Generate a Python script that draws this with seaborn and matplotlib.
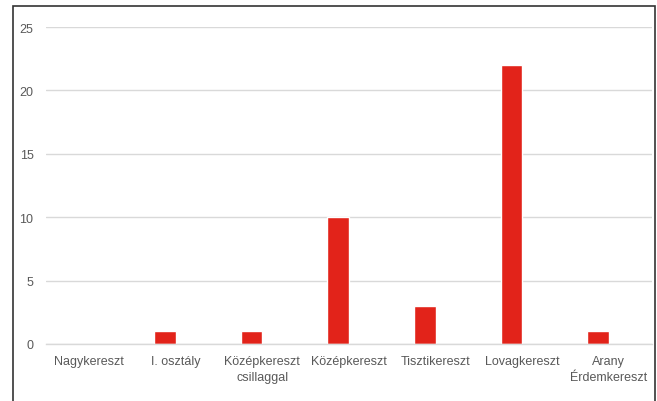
import pandas as pd
import matplotlib.pyplot as plt
import seaborn as sns
from matplotlib.patches import Rectangle

# adatok
kategoriak = ['Nagykereszt', 'I. osztály', 'Középkereszt\ncsillaggal', 'Középkereszt',
              'Tisztikereszt', 'Lovagkereszt', 'Arany\nÉrdemkereszt']
ertekek = [0, 1, 1, 10, 3, 22, 1]
sorozatok = ['1. sorozat', '2. sorozat']   # a 2. sorozat üres

df = pd.DataFrame({'kat': kategoriak, 'db': ertekek, 'sor': sorozatok[0]})

sns.set_style('white')
plt.rcParams['font.family'] = ['Liberation Sans', 'DejaVu Sans']

fig = plt.figure(figsize=(6.57, 4.02), dpi=100)
ax = fig.add_axes([0.070, 0.1418, 0.9224, 0.7885])

sns.barplot(data=df, x='kat', y='db', hue='sor', hue_order=sorozatok,
            palette=['#E2231A', '#E2231A'], saturation=1, width=0.5, dodge=True,
            order=kategoriak, legend=False, ax=ax)

ax.set_ylim(0, 25)
ax.set_xlim(-0.5, len(kategoriak) - 0.5)
ax.set_yticks(range(0, 26, 5))
ax.set_xlabel('')
ax.set_ylabel('')
ax.yaxis.grid(True, color='#d9d9d9', linewidth=1)
ax.set_axisbelow(True)
for s in ['top', 'right', 'left']:
    ax.spines[s].set_visible(False)
ax.spines['bottom'].set_color('#d9d9d9')
ax.spines['bottom'].set_linewidth(1)
ax.tick_params(axis='both', length=0, labelsize=9, labelcolor='#595959')
ax.tick_params(axis='y', pad=9)
ax.tick_params(axis='x', pad=8)
for t in ax.get_xticklabels():
    t.set_linespacing(1.4)

# keret
fig.patches.append(Rectangle((13 / 657, -0.05), 642 / 657, 1 - 7 / 402 + 0.05,
                             transform=fig.transFigure, fill=False,
                             edgecolor='#333333', linewidth=1.2, clip_on=False))

fig.savefig('out.png', dpi=100)
